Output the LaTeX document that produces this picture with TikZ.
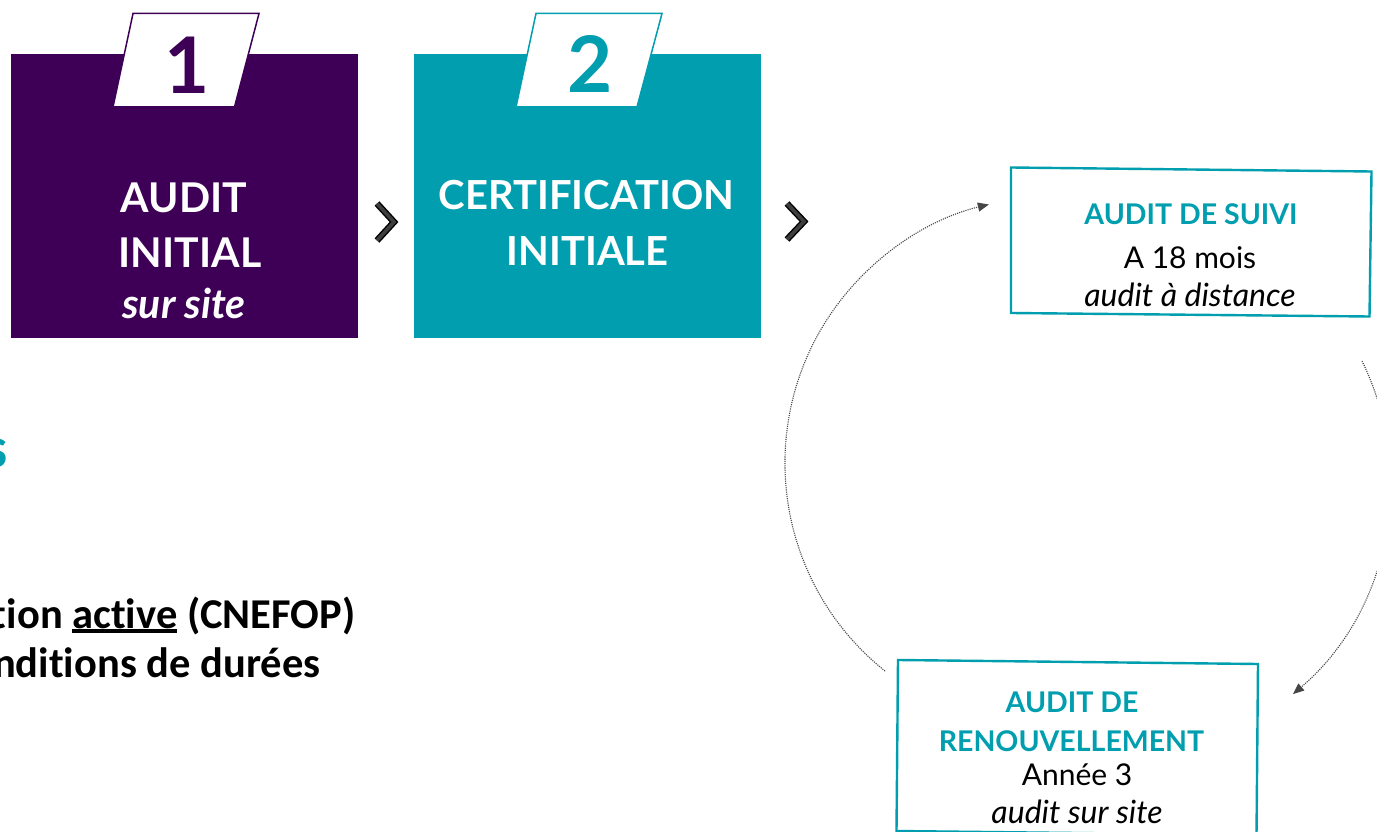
\documentclass[tikz,border=0pt]{standalone}
\usepackage{fontspec}
\setmainfont{Lato}[Ligatures=NoCommon]
\newfontfamily\calibfont{Carlito}[Ligatures=NoCommon]
\usetikzlibrary{arrows.meta}
\definecolor{purp}{RGB}{62,0,86}
\definecolor{tealc}{RGB}{0,158,174}
\definecolor{chevc}{RGB}{62,62,62}
\definecolor{arcc}{RGB}{70,70,70}
\newcommand{\thickul}[1]{\setbox0\hbox{#1}\rlap{\rule[-5pt]{\wd0}{4.5pt}}\box0\relax}
\begin{document}
\begin{tikzpicture}[x=1pt,y=-1pt,
  txt/.style={inner sep=0pt, anchor=base},
  bigw/.style={txt, text=white, font=\bfseries\fontsize{#1}{#1}\selectfont},
  numtab/.style={txt, font=\bfseries\fontsize{78}{78}\selectfont},
  boxtitle/.style={txt, text=tealc, font=\bfseries\fontsize{28.5}{28.5}\selectfont},
  boxbody/.style={txt, text=black, font=\fontsize{30}{30}\selectfont},
  boxital/.style={txt, text=black, font=\itshape\fontsize{32}{32}\selectfont},
  stepblock/.style={inner sep=0pt, minimum width=347pt, minimum height=284pt, draw=none},
  tabshape/.style={line width=1.5pt, fill=white},
  framebox/.style={draw=tealc, line width=2.4pt, line join=miter},
  chevout/.style={line width=6.5pt, black, line join=miter, line cap=butt},
  chevin/.style={line width=3.6pt, chevc, line join=miter, line cap=butt},
  cyclearc/.style={arcc, line width=1.1pt, dash pattern=on 1.1pt off 1.1pt,
     -{Triangle[length=11pt,width=9pt]}},
  lefttxt/.style={inner sep=0pt, anchor=base east, font=\calibfont\bfseries\fontsize{42.5}{42.5}\selectfont}
]
\useasboundingbox (0,0) rectangle (1377,832);

% step 1
\node[stepblock, fill=purp] (box1) at (184.5,196) {};
\draw[tabshape, draw=purp] (133,13.5) -- (259,13.5) -- (234.5,107) -- (113,107) -- cycle;
\node[numtab, text=purp] (num1) at (187,94) {1};
\node[bigw=41] (b1l1) at (184,212) {AUDIT};
\node[bigw=41] (b1l2) at (190,267) {INITIAL};
\node[bigw=41, font=\bfseries\itshape\fontsize{41}{41}\selectfont] (b1l3) at (184,318) {sur site};

% step 2
\node[stepblock, fill=tealc] (box2) at (587.5,196) {};
\draw[tabshape, draw=tealc] (536,13.5) -- (662,13.5) -- (637,107) -- (516,107) -- cycle;
\node[numtab, text=tealc] (num2) at (590,93) {2};
\node[bigw=40] (b2l1) at (586.5,209) {CERTIFICATION};
\node[bigw=40] (b2l2) at (587.5,265) {INITIALE};

% chevrons
\draw[chevout] (377,203.5) -- (394,222) -- (377,240.5);
\draw[chevin] (377,203.5) -- (394,222) -- (377,240.5);
\draw[chevout] (787,203.5) -- (804,221.5) -- (787,239.5);
\draw[chevin] (787,203.5) -- (804,221.5) -- (787,239.5);

% audit de suivi
\draw[framebox] (1011,167.5) -- (1371.5,171.5) -- (1369.5,316.5) -- (1011,313) -- cycle;
\node[boxtitle] (s1) at (1191,225) {AUDIT DE SUIVI};
\node[boxbody] (s2) at (1190,268) {A 18 mois};
\node[boxital] (s3) at (1190,306) {audit à distance};

% audit de renouvellement
\draw[framebox] (898,660) -- (1258,664) -- (1256.5,835) -- (896.5,831) -- cycle;
\node[boxtitle] (r1) at (1072,712) {AUDIT DE};
\node[boxtitle] (r2) at (1071.5,751) {RENOUVELLEMENT};
\node[boxbody] (r3) at (1077,785) {Année 3};
\node[boxital] (r4) at (1077,823) {audit sur site};

% cycle arcs
\coordinate (lstart) at (885,671);
\coordinate (rstart) at (1362,361);
\draw[cyclearc] (lstart) arc[start angle=128.6, end angle=256.5, radius=266];
\draw[cyclearc] (rstart) arc[start angle=-26.1, end angle=49.5, radius=277.5];

% truncated left text
\node[inner sep=0pt, anchor=base east, text=tealc, font=\calibfont\bfseries\fontsize{58}{58}\selectfont] (lt0) at (8,467) {s};
\node[lefttxt] (lt1) at (355.5,628) {tion \thickul{active} (CNEFOP)};
\node[lefttxt] (lt2) at (320.5,677) {nditions de durées};
\end{tikzpicture}
\end{document}
